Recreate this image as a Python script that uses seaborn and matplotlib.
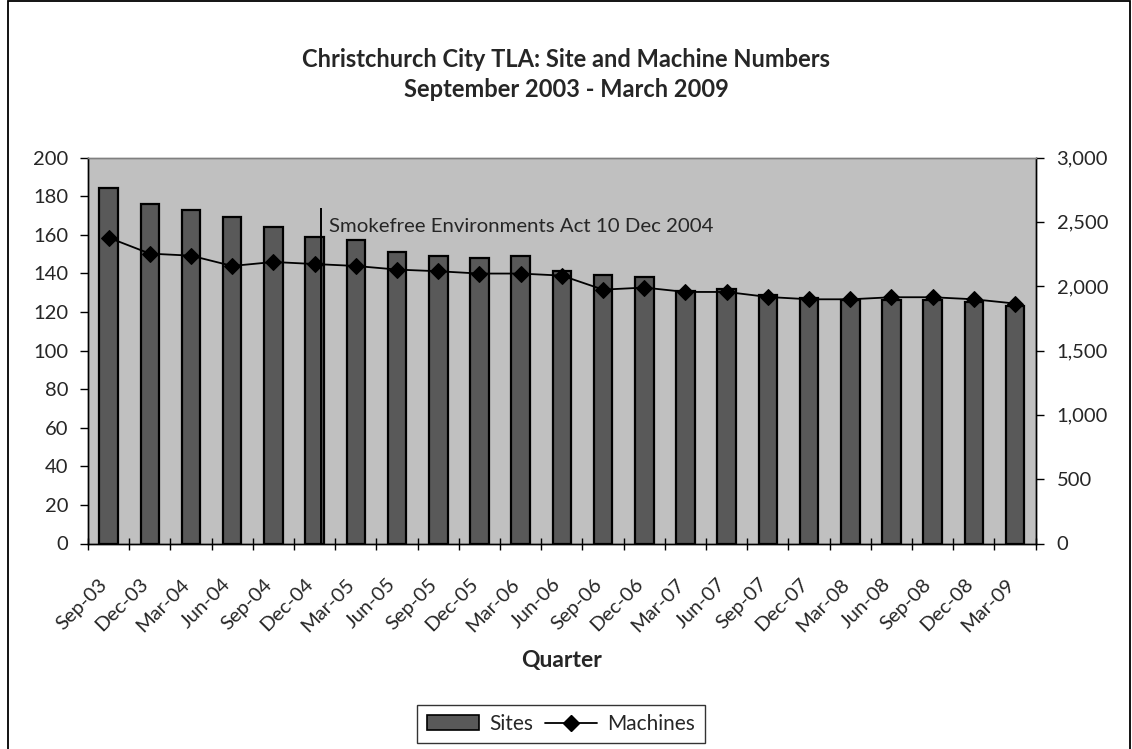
import matplotlib
matplotlib.use("Agg")
import matplotlib.pyplot as plt
import matplotlib.ticker as mticker
import matplotlib.transforms as mtransforms
from matplotlib.patches import Patch, Rectangle
from matplotlib.lines import Line2D
import seaborn as sns
import numpy as np
import pandas as pd

quarters = ["Sep-03", "Dec-03", "Mar-04", "Jun-04", "Sep-04", "Dec-04", "Mar-05", "Jun-05",
            "Sep-05", "Dec-05", "Mar-06", "Jun-06", "Sep-06", "Dec-06", "Mar-07", "Jun-07",
            "Sep-07", "Dec-07", "Mar-08", "Jun-08", "Sep-08", "Dec-08", "Mar-09"]
sites = [184, 176, 173, 169, 164, 159, 157, 151, 149, 148, 149, 141, 139, 138, 131, 132,
         129, 127, 126, 126, 126, 125, 123]
machines = [2377, 2253, 2237, 2157, 2188, 2172, 2157, 2129, 2116, 2098, 2098, 2082, 1973,
            1989, 1955, 1955, 1916, 1898, 1898, 1914, 1914, 1898, 1865]
left_ticks = list(range(0, 201, 20))
right_ticks = list(range(0, 3001, 500))
title = "Christchurch City TLA: Site and Machine Numbers\nSeptember 2003 - March 2009"
act_label = "Smokefree Environments Act 10 Dec 2004"
act_pos = 5.15      # 10 Dec 2004, just after the Dec-04 category
act_top = 174

df = pd.DataFrame({"Quarter": quarters, "Sites": sites, "Machines": machines})
df["idx"] = np.arange(len(df))

sns.set_theme(style="white")
plt.rcParams["font.family"] = ["Lato", "DejaVu Sans"]

W, H = 1132, 749
fig = plt.figure(figsize=(W / 100, H / 100), dpi=100)
ax = fig.add_axes([88 / W, 1 - 543.5 / H, (1035.7 - 88) / W, (543.5 - 157.5) / H])
ax.set_facecolor("#C0C0C0")

sns.barplot(data=df, x="Quarter", y="Sites", color="#595959", saturation=1,
            edgecolor="black", linewidth=1.6, width=0.45, ax=ax, zorder=2)
ax.set_xlim(-0.5, len(quarters) - 0.5)
ax.set_ylim(0, 200)
ax.set_yticks(left_ticks)
ax.set_ylabel("")

ax2 = ax.twinx()
sns.lineplot(data=df, x="idx", y="Machines", color="black", marker="D", markersize=8,
             markeredgecolor="black", linewidth=1.3, ax=ax2, zorder=3)
ax2.set_ylim(0, 3000)
ax2.set_yticks(right_ticks)
ax2.yaxis.set_major_formatter(mticker.FuncFormatter(lambda v, p: f"{int(v):,}"))
ax2.set_ylabel("")
ax2.set_xlabel("")
ax.set_xlim(-0.5, len(quarters) - 0.5)

# Vertical act marker
ax.vlines(act_pos, 0, act_top, color="black", linewidth=1.4, zorder=4)
ax.text(act_pos + 0.2, 164, act_label, fontsize=14.7, va="center", ha="left", zorder=5)

# Spines
for a in (ax, ax2):
    for s in a.spines.values():
        s.set_visible(True)
        s.set_color("black")
        s.set_linewidth(1.0)
ax.spines["top"].set_color("#808080")
ax2.spines["top"].set_color("#808080")

# X ticks: labels at centres, cross ticks at boundaries
ax.set_xticks(np.arange(len(quarters)))
ax.set_xticklabels(quarters, rotation=45, ha="right", va="top", rotation_mode="anchor",
                   fontsize=14.5)
ax.set_xticks(np.arange(-0.5, len(quarters), 1), minor=True)
ax.tick_params(axis="x", which="major", length=0, pad=23, bottom=True)
ax.tick_params(axis="x", which="minor", direction="inout", length=8, width=1, color="black",
               bottom=True)
offset = mtransforms.ScaledTranslation(-10 / 100, 0, fig.dpi_scale_trans)
for lbl in ax.get_xticklabels():
    lbl.set_transform(lbl.get_transform() + offset)
ax.set_xlabel("Quarter", fontsize=16.5, fontweight="bold", labelpad=11)

ax.tick_params(axis="y", which="major", direction="out", length=6, width=1, color="black",
               labelsize=14.5, pad=8, left=True)
ax2.tick_params(axis="y", which="major", direction="out", length=6, width=1, color="black",
                labelsize=14.5, pad=9, right=True)

fig.suptitle(title, x=0.5, y=1 - 48 / H, fontsize=17, fontweight="bold",
             linespacing=1.35, va="top")

handles = [Patch(facecolor="#595959", edgecolor="black", linewidth=1.2),
           Line2D([0], [0], color="black", marker="D", markersize=8, linewidth=1.3)]
leg = fig.legend(handles, ["Sites", "Machines"], loc="center", ncol=2,
                 bbox_to_anchor=(561 / W, 1 - 724 / H), fontsize=15, frameon=True,
                 fancybox=False, edgecolor="black", handlelength=2.5, columnspacing=0.55,
                 handletextpad=0.5, borderpad=0.45, borderaxespad=0)
leg.get_frame().set_linewidth(1.0)

fig.patches.append(Rectangle((8 / W, -0.01), (1130 - 8) / W, 1.0 - 1 / H + 0.01,
                             transform=fig.transFigure, fill=False, edgecolor="black",
                             linewidth=1.3))

fig.savefig("out.png", dpi=100)
